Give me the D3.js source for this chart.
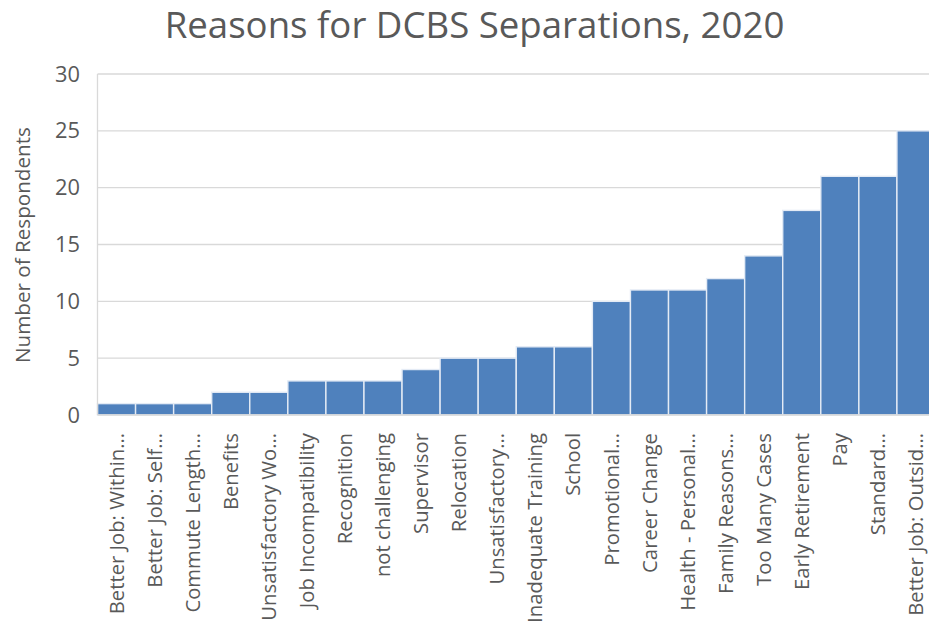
<!DOCTYPE html>
<html><head><meta charset="utf-8">
<script src="https://cdn.jsdelivr.net/npm/d3@7"></script>
<style>body{margin:0;background:#fff;overflow:hidden}</style>
</head><body><svg id="c" width="929" height="629"></svg>
<script>
const categories = ["Better Job: Within…","Better Job: Self…","Commute Length…","Benefits","Unsatisfactory Wo…","Job Incompatibility","Recognition","not challenging","Supervisor","Relocation","Unsatisfactory…","Inadequate Training","School","Promotional…","Career Change","Health - Personal…","Family Reasons…","Too Many Cases","Early Retirement","Pay","Standard…","Better Job: Outsid…"];
const values = [1,1,1,2,2,3,3,3,4,5,5,6,6,10,11,11,12,14,18,21,21,25];
const yTicks = [0,5,10,15,20,25,30];
const titleText = "Reasons for DCBS Separations, 2020";
const yTitle = "Number of Respondents";

const svg = d3.select("#c");
const font = "'Open Sans', sans-serif";
const grey = "#595959";
const mLeft = 97.5, mRight = 935, mTop = 74, mBottom = 415;
const x = d3.scaleBand().domain(categories).range([mLeft, mRight]).padding(0);
const y = d3.scaleLinear().domain([0,30]).range([mBottom, mTop]);

// measure helper: font size giving a target width
function fitSize(text, target, base) {
  const t = svg.append("text").attr("font-family", font).attr("font-size", base).text(text);
  const w = t.node().getComputedTextLength();
  t.remove();
  return base * target / w;
}
const titleSize = fitSize(titleText, 620, 30);
const labelSize = Math.min(fitSize("Job Incompatibility", 184, 18), fitSize("Inadequate Training", 190, 18));
const yTitleSize = fitSize(yTitle, 236, 18);
const tickSize = fitSize("30", 25, 20);

// gridlines
svg.append("g").selectAll("line").data(yTicks.slice(1)).join("line")
  .attr("x1", mLeft).attr("x2", mRight)
  .attr("y1", d=>y(d)).attr("y2", d=>y(d))
  .attr("stroke", "#d9d9d9").attr("stroke-width", 1.3);

// bars
svg.append("g").selectAll("rect").data(values).join("rect")
  .attr("x", (d,i)=>x(categories[i]))
  .attr("width", x.bandwidth())
  .attr("y", d=>y(d))
  .attr("height", d=>y(0)-y(d))
  .attr("fill", "#4f81bd")
  .attr("stroke", "#e4ebf5").attr("stroke-width", 1.4);

// axis lines
svg.append("line").attr("x1", mLeft).attr("x2", mLeft).attr("y1", mTop).attr("y2", mBottom)
  .attr("stroke", "#d9d9d9").attr("stroke-width", 1.3);
svg.append("line").attr("x1", mLeft).attr("x2", mRight).attr("y1", mBottom).attr("y2", mBottom)
  .attr("stroke", "#d9d9d9").attr("stroke-width", 1.3);

// y axis
const yAxis = d3.axisLeft(y).tickValues(yTicks).tickSize(0).tickPadding(0);
const ga = svg.append("g").attr("transform", `translate(80,0)`).call(yAxis);
ga.select(".domain").remove();
ga.selectAll("text").attr("font-family", font).attr("font-size", tickSize).attr("fill", grey);

// x axis labels
const xAxis = d3.axisBottom(x).tickSize(0).tickPadding(0);
const gx = svg.append("g").attr("transform", `translate(0,${mBottom})`).call(xAxis);
gx.select(".domain").remove();
gx.selectAll("text")
  .attr("font-family", font).attr("font-size", labelSize).attr("fill", grey)
  .attr("text-anchor", "end").attr("dy", "0.35em")
  .attr("transform", "translate(0,18) rotate(-90)").attr("x", 0).attr("y", 0);

// titles
svg.append("text").attr("x", 474.5).attr("y", 38).attr("text-anchor", "middle")
  .attr("font-family", font).attr("font-size", titleSize).attr("fill", grey).text(titleText);
svg.append("text").attr("transform", `translate(23,245) rotate(-90)`).attr("text-anchor", "middle")
  .attr("dy", "0.35em")
  .attr("font-family", font).attr("font-size", yTitleSize).attr("fill", grey).text(yTitle);
</script></body></html>
